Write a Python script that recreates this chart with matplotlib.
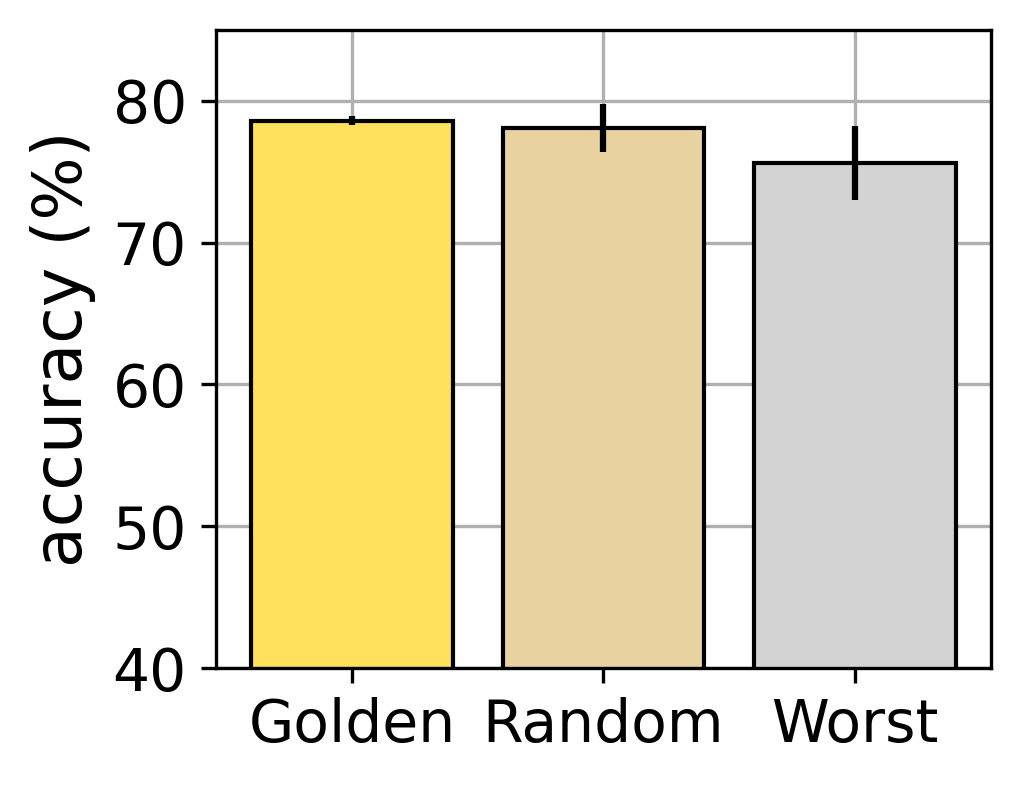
import matplotlib
matplotlib.use('Agg')
import matplotlib.pyplot as plt

plt.rcParams['font.family'] = 'DejaVu Sans'

labels = ['Golden', 'Random', 'Worst']
acc = [78.6, 78.1, 75.6]
err = [0.3, 1.7, 2.6]
colors = ['#FFE15C', '#E8D2A0', '#D3D3D3']

fig = plt.figure(figsize=(1021 / 300, 785 / 300), dpi=300)
ax = fig.add_axes([216 / 1021, 1 - 668 / 785, (991 - 216) / 1021, (668 - 30) / 785])

ax.bar(labels, acc, yerr=err, color=colors, edgecolor='black', linewidth=1.0,
       width=0.8, error_kw=dict(elinewidth=1.5, capsize=0, ecolor='black'))
ax.set_ylim(40, 85)
ax.set_yticks([40, 50, 60, 70, 80])
ax.set_ylabel('accuracy (%)', fontsize=16)
ax.tick_params(axis='both', labelsize=14)
ax.grid(True, color='#b0b0b0', linewidth=0.8)
ax.set_axisbelow(True)

plt.savefig('out.png', dpi=300)
plt.close()
